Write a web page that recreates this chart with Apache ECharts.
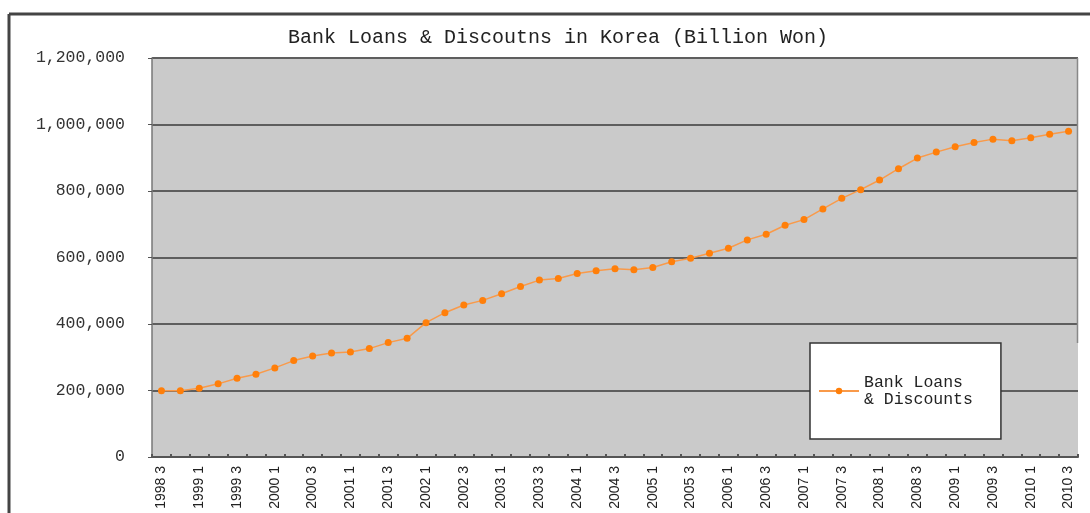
<!DOCTYPE html>
<html>
<head>
<meta charset="utf-8">
<script src="https://cdn.jsdelivr.net/npm/echarts@6/dist/echarts.min.js"></script>
<style>
html,body{margin:0;padding:0;background:#fff;}
#chart{width:1090px;height:513px;}
</style>
</head>
<body>
<div id="chart"></div>
<script>
// Quarterly categories, 1998 Q3 .. 2010 Q3
var categories = [
  '1998 3','1998 4',
  '1999 1','1999 2','1999 3','1999 4',
  '2000 1','2000 2','2000 3','2000 4',
  '2001 1','2001 2','2001 3','2001 4',
  '2002 1','2002 2','2002 3','2002 4',
  '2003 1','2003 2','2003 3','2003 4',
  '2004 1','2004 2','2004 3','2004 4',
  '2005 1','2005 2','2005 3','2005 4',
  '2006 1','2006 2','2006 3','2006 4',
  '2007 1','2007 2','2007 3','2007 4',
  '2008 1','2008 2','2008 3','2008 4',
  '2009 1','2009 2','2009 3','2009 4',
  '2010 1','2010 2','2010 3'
];
// Bank Loans & Discounts (Billion Won)
var loans = [
  199000, 199000,
  207000, 220000, 237000, 249000,
  268000, 290000, 304000, 313000,
  316000, 326000, 344000, 357000,
  404000, 434000, 457000, 471000,
  491000, 513000, 532000, 537000,
  552000, 560000, 566000, 563000,
  570000, 587000, 598000, 613000,
  628000, 653000, 670000, 697000,
  714000, 746000, 778000, 804000,
  833000, 867000, 899000, 917000,
  933000, 946000, 956000, 951000,
  960000, 971000, 980000
];
var yTicks = [0, 200000, 400000, 600000, 800000, 1000000, 1200000];
var seriesName = 'Bank Loans & Discounts';
var titleText = 'Bank Loans & Discoutns in Korea (Billion Won)';

function fmt(v){
  return String(v).replace(/\B(?=(\d{3})+(?!\d))/g, ',');
}

var chart = echarts.init(document.getElementById('chart'), null, {renderer:'canvas'});
var mono = '"Liberation Mono", "DejaVu Sans Mono", monospace';
chart.setOption({
  animation: false,
  backgroundColor: '#ffffff',
  title: {
    text: titleText,
    left: 283,
    top: 23,
    textStyle: { fontFamily: mono, fontSize: 20, fontWeight: 'normal', color: '#222' }
  },
  graphic: [
    { type: 'line', shape: { x1: 9, y1: 14, x2: 1090, y2: 14 }, style: { stroke: '#444', lineWidth: 3 }, z: 10 },
    { type: 'line', shape: { x1: 9, y1: 14, x2: 9, y2: 513 }, style: { stroke: '#444', lineWidth: 3 }, z: 10 },
    { type: 'line', shape: { x1: 1077.5, y1: 58, x2: 1077.5, y2: 343 }, style: { stroke: '#888', lineWidth: 1.5 }, z: 10 }
  ],
  grid: {
    left: 152, right: 12, top: 58, bottom: 56,
    show: true, backgroundColor: '#cacaca', borderWidth: 0
  },
  legend: {
    left: 810, top: 343,
    orient: 'vertical',
    backgroundColor: '#ffffff',
    borderColor: '#333',
    borderWidth: 1.5,
    padding: [31, 28, 31, 8],
    itemWidth: 40, itemHeight: 8,
    formatter: function(){ return 'Bank Loans\n& Discounts'; },
    textStyle: { fontFamily: mono, fontSize: 16.5, color: '#222', lineHeight: 17 },
    data: [seriesName]
  },
  xAxis: {
    type: 'category',
    data: categories,
    boundaryGap: true,
    axisLine: { show: true, lineStyle: { color: '#555', width: 2 } },
    axisTick: { show: true, inside: true, length: 3, interval: 0, lineStyle: { color: '#555', width: 2 } },
    axisLabel: {
      interval: 1, rotate: 90, margin: 9,
      fontFamily: '"Liberation Sans Narrow", "Liberation Sans", Arial, sans-serif',
      fontSize: 14, color: '#222'
    },
    splitLine: { show: false }
  },
  yAxis: {
    type: 'value',
    min: yTicks[0], max: yTicks[yTicks.length - 1], interval: yTicks[1] - yTicks[0],
    axisLine: { show: true, lineStyle: { color: '#777', width: 1.5 } },
    axisTick: { show: true, length: 4, lineStyle: { color: '#555' } },
    axisLabel: {
      margin: 27, fontFamily: mono, fontSize: 16.5, color: '#333',
      formatter: function(v){ return fmt(v); }
    },
    splitLine: { show: true, lineStyle: { color: '#5e5e5e', width: 2 } }
  },
  series: [{
    name: seriesName,
    type: 'line',
    data: loans,
    symbol: 'circle',
    symbolSize: 7,
    showSymbol: true,
    lineStyle: { color: '#f99a4a', width: 1.5 },
    itemStyle: { color: '#ff7f0a' },
    z: 5
  }]
});
</script>
</body>
</html>
